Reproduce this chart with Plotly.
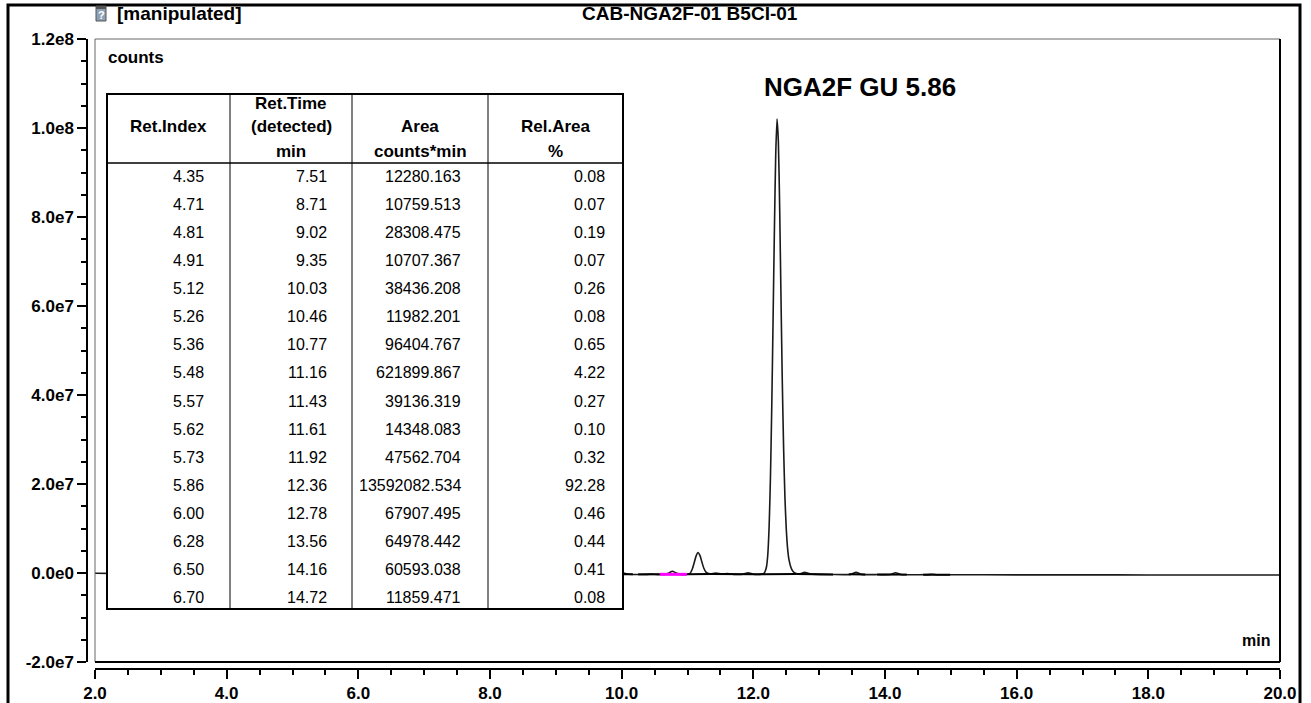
import plotly.graph_objects as go

# ---------------- data ----------------
time_min = [2.0, 2.5, 3.0, 3.5, 4.0, 4.5, 5.0, 5.5, 6.0, 6.5, 7.0, 7.4, 7.51, 7.62, 8.0, 8.6, 8.71, 8.82,
            8.95, 9.02, 9.10, 9.28, 9.35, 9.42, 9.7, 9.95, 10.03, 10.11, 10.38, 10.46, 10.54, 10.65, 10.71,
            10.77, 10.83, 10.90, 11.00, 11.04, 11.07, 11.10, 11.13, 11.16, 11.19, 11.22, 11.25, 11.28, 11.34,
            11.43, 11.52, 11.61, 11.70, 11.84, 11.92, 12.00, 12.10, 12.16, 12.18, 12.20, 12.22, 12.24, 12.26,
            12.28, 12.30, 12.32, 12.34, 12.36, 12.38, 12.40, 12.42, 12.44, 12.46, 12.48, 12.50, 12.52, 12.54,
            12.57, 12.60, 12.65, 12.70, 12.78, 12.86, 13.2, 13.48, 13.56, 13.64, 13.9, 14.08, 14.16, 14.24,
            14.64, 14.72, 14.80, 15.5, 16.5, 17.5, 18.5, 19.5, 20.0]
signal_counts = [-0.07e6, -0.15e6, -0.2e6, -0.22e6, -0.25e6, -0.25e6, -0.27e6, -0.28e6, -0.3e6, -0.3e6,
                 -0.3e6, -0.3e6, -0.22e6, -0.3e6, -0.3e6, -0.3e6, -0.23e6, -0.3e6, -0.28e6, -0.12e6,
                 -0.28e6, -0.3e6, -0.23e6, -0.3e6, -0.3e6, -0.28e6, -0.02e6, -0.28e6, -0.3e6, -0.22e6,
                 -0.3e6, -0.3e6, -0.05e6, 0.4e6, 0.0e6, -0.3e6, -0.3e6, -0.05e6, 0.8e6, 2.2e6, 3.8e6,
                 4.6e6, 3.9e6, 2.4e6, 1.0e6, 0.2e6, -0.2e6, 0.0e6, -0.25e6, -0.15e6, -0.3e6, -0.28e6,
                 0.05e6, -0.28e6, -0.3e6, -0.1e6, 0.4e6, 1.4e6, 4.2e6, 10.5e6, 21.5e6, 37.5e6, 57e6,
                 77e6, 94e6, 102e6, 97e6, 82e6, 62e6, 43e6, 28e6, 17e6, 10e6, 5.6e6, 3.1e6, 1.3e6,
                 0.4e6, -0.1e6, -0.2e6, 0.15e6, -0.2e6, -0.33e6, -0.3e6, 0.15e6, -0.3e6, -0.35e6,
                 -0.33e6, 0.05e6, -0.33e6, -0.37e6, -0.27e6, -0.38e6, -0.4e6, -0.42e6, -0.43e6,
                 -0.44e6, -0.45e6, -0.45e6]

# integration baselines (black) and the highlighted one (magenta) under the 10.77 min peak
base_time = [7.35, 7.65, None, 8.55, 8.85, None, 8.88, 9.2, None, 9.25, 9.5, None, 9.67, 10.17, None,
             10.25, 10.58, None, 10.99, 11.34, None, 11.34, 12.07, None, 12.07, 12.66, None, 12.66, 13.21,
             None, 13.45, 13.7, None, 13.88, 14.33, None, 14.58, 14.99]
base_counts = [-0.3e6, -0.3e6, None, -0.3e6, -0.3e6, None, -0.3e6, -0.3e6, None, -0.3e6, -0.3e6, None,
               -0.3e6, -0.3e6, None, -0.3e6, -0.3e6, None, -0.3e6, -0.25e6, None, -0.25e6, -0.3e6, None,
               -0.3e6, -0.2e6, None, -0.2e6, -0.33e6, None, -0.3e6, -0.32e6, None, -0.35e6, -0.35e6, None,
               -0.37e6, -0.38e6]
mark_time = [10.58, 10.99]
mark_counts = [-0.3e6, -0.3e6]

# peak table
ret_index = [4.35, 4.71, 4.81, 4.91, 5.12, 5.26, 5.36, 5.48, 5.57, 5.62, 5.73, 5.86, 6.00, 6.28, 6.50, 6.70]
ret_time = [7.51, 8.71, 9.02, 9.35, 10.03, 10.46, 10.77, 11.16, 11.43, 11.61, 11.92, 12.36, 12.78, 13.56,
            14.16, 14.72]
area = [12280.163, 10759.513, 28308.475, 10707.367, 38436.208, 11982.201, 96404.767, 621899.867, 39136.319,
        14348.083, 47562.704, 13592082.534, 67907.495, 64978.442, 60593.038, 11859.471]
rel_area = [0.08, 0.07, 0.19, 0.07, 0.26, 0.08, 0.65, 4.22, 0.27, 0.10, 0.32, 92.28, 0.46, 0.44, 0.41, 0.08]

x_tickvals = [2, 4, 6, 8, 10, 12, 14, 16, 18, 20]
x_ticktext = ["2.0", "4.0", "6.0", "8.0", "10.0", "12.0", "14.0", "16.0", "18.0", "20.0"]
y_tickvals = [-2e7, 0, 2e7, 4e7, 6e7, 8e7, 1e8, 1.2e8]
y_ticktext = ["-2.0e7", "0.0e0", "2.0e7", "4.0e7", "6.0e7", "8.0e7", "1.0e8", "1.2e8"]

title_left = "[manipulated]"
title_center = "CAB-NGA2F-01 B5CI-01"
peak_label = "NGA2F GU 5.86"

# ---------------- layout geometry (pixels) ----------------
W, H = 1311, 703
ML, MR, MT, MB = 87, 31, 39, 34
PW, PH = W - ML - MR, H - MT - MB
FRAME_L, FRAME_B = 95, 662


def P(x, y):
    return (x - ML) / PW, (H - MB - y) / PH


FONT = "Liberation Sans, Arial, sans-serif"

fig = go.Figure()
fig.add_trace(go.Scatter(x=time_min, y=signal_counts, mode="lines",
                         line=dict(color="#1a1a1a", width=1.6, shape="spline", smoothing=0.6),
                         hoverinfo="skip"))
fig.add_trace(go.Scatter(x=base_time, y=base_counts, mode="lines", connectgaps=False,
                         line=dict(color="black", width=2), hoverinfo="skip"))
fig.add_trace(go.Scatter(x=mark_time, y=mark_counts, mode="lines",
                         line=dict(color="#ff00ff", width=3), hoverinfo="skip"))

dx0 = (FRAME_L - ML) / PW
dy0 = (H - MB - FRAME_B) / PH

tickfont = dict(family=FONT, size=17, color="black", weight="bold")
fig.update_layout(
    width=W, height=H, autosize=False,
    margin=dict(l=ML, r=MR, t=MT, b=MB, pad=0, autoexpand=False),
    paper_bgcolor="white", plot_bgcolor="white", showlegend=False,
    xaxis=dict(range=[2, 20], domain=[dx0, 1], anchor="free", position=0, automargin=False,
               showline=True, linecolor="black", linewidth=1.5,
               ticks="outside", ticklen=9, tickwidth=2, tickcolor="black",
               tickvals=x_tickvals, ticktext=x_ticktext, tickfont=tickfont,
               minor=dict(ticks="outside", ticklen=5, tickwidth=2, tickcolor="black", dtick=0.5, tick0=2,
                          showgrid=False),
               showgrid=False, zeroline=False, fixedrange=True),
    yaxis=dict(range=[-2e7, 1.2e8], domain=[dy0, 1], anchor="free", position=0, automargin=False,
               showline=True, linecolor="black", linewidth=1.5,
               ticks="outside", ticklen=9, tickwidth=2, tickcolor="black",
               tickvals=y_tickvals, ticktext=y_ticktext, tickfont=tickfont,
               minor=dict(ticks="outside", ticklen=5, tickwidth=2, tickcolor="black", dtick=5e6, tick0=0,
                          showgrid=False),
               showgrid=False, zeroline=False, fixedrange=True),
)

shapes = []
# plot frame
shapes.append(dict(type="line", xref="x domain", yref="y domain", x0=0, y0=0, x1=0, y1=1,
                   line=dict(color="#666666", width=1)))
shapes.append(dict(type="line", xref="x domain", yref="y domain", x0=0, y0=1, x1=1, y1=1,
                   line=dict(color="#666666", width=1)))
shapes.append(dict(type="line", xref="x domain", yref="y domain", x0=1, y0=0, x1=1, y1=1,
                   line=dict(color="black", width=2)))
shapes.append(dict(type="line", xref="x domain", yref="y domain", x0=0, y0=0, x1=1, y1=0,
                   line=dict(color="black", width=2)))
# outer border
bx0, by0 = P(8, 5)
bx1, by1 = P(1300, 720)
shapes.append(dict(type="rect", xref="paper", yref="paper", x0=bx0, y0=by1, x1=bx1, y1=by0,
                   line=dict(color="black", width=3)))
# icon
ix0, iy0 = P(96, 6)
ix1, iy1 = P(106, 21)
shapes.append(dict(type="rect", xref="paper", yref="paper", x0=ix0, y0=iy1, x1=ix1, y1=iy0,
                   fillcolor="#8da0b5", line=dict(color="#555555", width=1)))
tx0, ty0 = P(96, 6)
tx1, ty1 = P(106, 9)
shapes.append(dict(type="rect", xref="paper", yref="paper", x0=tx0, y0=ty1, x1=tx1, y1=ty0,
                   fillcolor="#555555", line=dict(width=0)))

# table geometry
T_L, T_T, T_R, T_B = 107, 94, 623, 609
col_edges = [107, 230, 352, 488, 623]
HEAD_B = 163
ROW0, ROWH = 176, 28.13
col_text_right = [206, 329, 463, 607]

x0, y0 = P(T_L, T_T)
x1, y1 = P(T_R, T_B)
shapes.append(dict(type="rect", xref="paper", yref="paper", x0=x0, y0=y1, x1=x1, y1=y0,
                   fillcolor="white", line=dict(color="black", width=2), layer="above"))
for cx in col_edges[1:-1]:
    a, b = P(cx, T_T)
    _, c = P(cx, T_B)
    shapes.append(dict(type="line", xref="paper", yref="paper", x0=a, y0=b, x1=a, y1=c,
                       line=dict(color="black", width=1)))
a, b = P(T_L, HEAD_B)
c, _ = P(T_R, HEAD_B)
shapes.append(dict(type="line", xref="paper", yref="paper", x0=a, y0=b, x1=c, y1=b,
                   line=dict(color="black", width=1.5)))

annotations = []


def txt(x, y, s, size, bold=True, xanchor="left", color="black"):
    px, py = P(x, y)
    annotations.append(dict(xref="paper", yref="paper", x=px, y=py, text=s, showarrow=False,
                            xanchor=xanchor, yanchor="middle",
                            font=dict(family=FONT, size=size, color=color,
                                      weight="bold" if bold else "normal")))


txt(101, 15, "?", 11, True, "center", "white")
txt(115, 14, title_left, 19)
txt(690, 14, title_center, 19, True, "center")
txt(106, 57, "counts", 17)
txt(1272, 640, "min", 16, True, "right")
txt(860, 87, peak_label, 26, True, "center")

# table header
HF = 17
centers = [(col_edges[i] + col_edges[i + 1]) / 2 for i in range(4)]
txt(centers[0], 127, "Ret.Index", HF, True, "center")
txt(centers[1], 104, "Ret.Time", HF, True, "center")
txt(centers[1], 127, "(detected)", HF, True, "center")
txt(centers[1], 151, "min", HF, True, "center")
txt(centers[2], 127, "Area", HF, True, "center")
txt(centers[2], 151, "counts*min", HF, True, "center")
txt(centers[3], 127, "Rel.Area", HF, True, "center")
txt(centers[3], 151, "%", HF, True, "center")

for i in range(len(ret_index)):
    yy = ROW0 + i * ROWH
    vals = [f"{ret_index[i]:.2f}", f"{ret_time[i]:.2f}", f"{area[i]:.3f}", f"{rel_area[i]:.2f}"]
    for j, v in enumerate(vals):
        txt(col_text_right[j], yy, v, 16, False, "right")

fig.update_layout(shapes=shapes, annotations=annotations)
fig.write_html("out.html", config={"displayModeBar": False},
               post_script="document.body.style.margin='0';document.body.style.overflow='hidden';")
